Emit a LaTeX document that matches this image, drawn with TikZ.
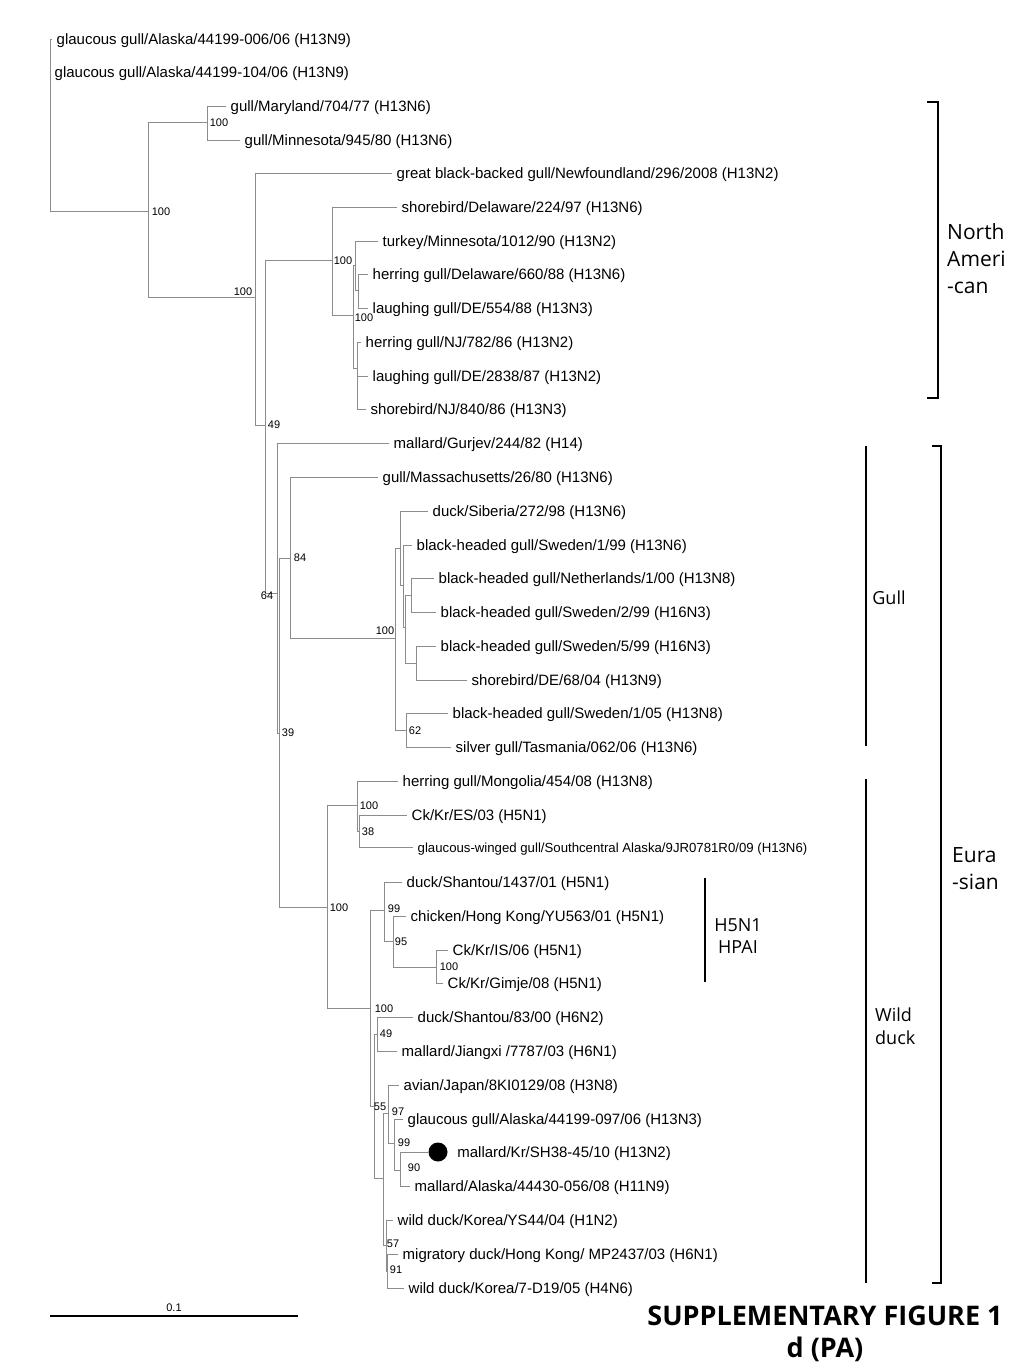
\documentclass[tikz,border=0pt]{standalone}
\usepackage{fontspec}
\usetikzlibrary{positioning}
\newfontfamily\leaffamily{Liberation Sans}
\newfontfamily\cladefamily{Open Sans}
\newcommand{\leaffont}{\leaffamily\fontsize{15}{18}\selectfont}
\newcommand{\smallleaffont}{\leaffamily\fontsize{13.2}{16}\selectfont}
\newcommand{\bootfont}{\leaffamily\fontsize{11}{13}\selectfont}
\newcommand{\cladefont}{\cladefamily\fontsize{21}{27}\selectfont}
\newcommand{\subcladefont}{\cladefamily\fontsize{18}{22.5}\selectfont}
\newcommand{\titlefont}{\cladefamily\bfseries\fontsize{27}{32}\selectfont}
\definecolor{treegray}{RGB}{140,140,140}
\tikzset{>=latex}

\begin{document}
\begin{tikzpicture}[x=1pt, y=-1pt,
  every edge/.style={draw=treegray, line width=0.8pt, to path={(\tikztostart) |- (\tikztotarget) \tikztonodes}},
  leaf/.style={anchor=west, inner xsep=4.5pt, inner ysep=0pt, text height=10.5pt, text depth=0pt, font=\leaffont},
  boot/.style={inner sep=0pt, font=\bootfont},
  clade/.style={inner sep=0pt, align=left, font=\cladefont},
  subclade/.style={inner sep=0pt, align=left, font=\subcladefont},
  bracket/.style={line width=1.4pt},
  dot/.style={circle, fill=black, inner sep=0pt, minimum size=19pt}]
\fill[white] (0,0) rectangle (1024,1365);
\useasboundingbox (0,0) rectangle (1024,1365);

\coordinate (r) at (50,125);
\coordinate (a) at (148,211);
\coordinate (b) at (207,122);
\coordinate (c) at (255,297);
\coordinate (e) at (265,425);
\coordinate (na) at (332,260);
\coordinate (g) at (353,315);
\coordinate (h) at (355,265);
\coordinate (h2) at (358,290);
\coordinate (i) at (357,368);
\coordinate (f) at (277,593);
\coordinate (f2) at (279,733);
\coordinate (j) at (290,558);
\coordinate (m) at (395,638);
\coordinate (m1) at (400,548);
\coordinate (m3) at (403,585);
\coordinate (m4) at (405,627);
\coordinate (m5) at (411,595);
\coordinate (m6) at (416,663);
\coordinate (m2) at (406,730);
\coordinate (k) at (327,907);
\coordinate (n) at (357,805);
\coordinate (n2) at (359,831);
\coordinate (o) at (370,1008);
\coordinate (p) at (384,910);
\coordinate (p2) at (393,941);
\coordinate (p3) at (436,967);
\coordinate (q) at (374,1106);
\coordinate (rr) at (377,1034);
\coordinate (s) at (383,1178);
\coordinate (t) at (388,1113);
\coordinate (t2) at (394,1143);
\coordinate (t3) at (400,1170);
\coordinate (u) at (386,1245);
\coordinate (u2) at (387,1271);

\node[leaf] (l1) at (52,39) {glaucous gull/Alaska/44199-006/06 (H13N9)};
\node[leaf] (l2) at (50,72) {glaucous gull/Alaska/44199-104/06 (H13N9)};
\node[leaf] (l3) at (226,106) {gull/Maryland/704/77 (H13N6)};
\node[leaf] (l4) at (240,140) {gull/Minnesota/945/80 (H13N6)};
\node[leaf] (l5) at (392,173) {great black-backed gull/Newfoundland/296/2008 (H13N2)};
\node[leaf] (l6) at (397,207) {shorebird/Delaware/224/97 (H13N6)};
\node[leaf] (l7) at (378,241) {turkey/Minnesota/1012/90 (H13N2)};
\node[leaf] (l8) at (368,274) {herring gull/Delaware/660/88 (H13N6)};
\node[leaf] (l9) at (368,308) {laughing gull/DE/554/88 (H13N3)};
\node[leaf] (l10) at (361,342) {herring gull/NJ/782/86 (H13N2)};
\node[leaf] (l11) at (368,376) {laughing gull/DE/2838/87 (H13N2)};
\node[leaf] (l12) at (366,409) {shorebird/NJ/840/86 (H13N3)};
\node[leaf] (l13) at (389,443) {mallard/Gurjev/244/82 (H14)};
\node[leaf] (l14) at (378,477) {gull/Massachusetts/26/80 (H13N6)};
\node[leaf] (l15) at (428,511) {duck/Siberia/272/98 (H13N6)};
\node[leaf] (l16) at (412,545) {black-headed gull/Sweden/1/99 (H13N6)};
\node[leaf] (l17) at (434,578) {black-headed gull/Netherlands/1/00 (H13N8)};
\node[leaf] (l18) at (436,612) {black-headed gull/Sweden/2/99 (H16N3)};
\node[leaf] (l19) at (436,646) {black-headed gull/Sweden/5/99 (H16N3)};
\node[leaf] (l20) at (467,680) {shorebird/DE/68/04 (H13N9)};
\node[leaf] (l21) at (448,713) {black-headed gull/Sweden/1/05 (H13N8)};
\node[leaf] (l22) at (451,747) {silver gull/Tasmania/062/06 (H13N6)};
\node[leaf] (l23) at (398,781) {herring gull/Mongolia/454/08 (H13N8)};
\node[leaf] (l24) at (407,815) {Ck/Kr/ES/03 (H5N1)};
\node[leaf, font=\smallleaffont] (l25) at (413,847) {glaucous-winged gull/Southcentral Alaska/9JR0781R0/09 (H13N6)};
\node[leaf] (l26) at (402,882) {duck/Shantou/1437/01 (H5N1)};
\node[leaf] (l27) at (406,916) {chicken/Hong Kong/YU563/01 (H5N1)};
\node[leaf] (l28) at (448,950) {Ck/Kr/IS/06 (H5N1)};
\node[leaf] (l29) at (443,983) {Ck/Kr/Gimje/08 (H5N1)};
\node[leaf] (l30) at (413,1017) {duck/Shantou/83/00 (H6N2)};
\node[leaf] (l31) at (397,1051) {mallard/Jiangxi /7787/03 (H6N1)};
\node[leaf] (l32) at (399,1085) {avian/Japan/8KI0129/08 (H3N8)};
\node[leaf] (l33) at (403,1119) {glaucous gull/Alaska/44199-097/06 (H13N3)};
\node[dot] (sh38) at (438,1152) {};
\node[leaf, right=5pt of sh38] (l34) {mallard/Kr/SH38-45/10 (H13N2)};
\node[leaf] (l35) at (410,1186) {mallard/Alaska/44430-056/08 (H11N9)};
\node[leaf] (l36) at (393,1220) {wild duck/Korea/YS44/04 (H1N2)};
\node[leaf] (l37) at (398,1254) {migratory duck/Hong Kong/ MP2437/03 (H6N1)};
\node[leaf] (l38) at (404,1288) {wild duck/Korea/7-D19/05 (H4N6)};

\path (r) edge (l1) edge (l2) edge (a);
\path (a) edge (b) edge (c);
\path (b) edge (l3) edge (l4);
\path (c) edge (l5) edge (e);
\path (e) edge (na) edge (f);
\path (na) edge (l6) edge (g);
\path (g) edge (h) edge (i);
\path (h) edge (l7) edge (h2);
\path (h2) edge (l8) edge (l9);
\path (i) edge (l10) edge (l11) edge (l12);
\path (f) edge (l13) edge (f2);
\path (f2) edge (j) edge (k);
\path (j) edge (l14) edge (m);
\path (m) edge (m1) edge (m2);
\path (m1) edge (l15) edge (m3);
\path (m3) edge (l16) edge (m4);
\path (m4) edge (m5) edge (m6);
\path (m5) edge (l17) edge (l18);
\path (m6) edge (l19) edge (l20);
\path (m2) edge (l21) edge (l22);
\path (k) edge (n) edge (o);
\path (n) edge (l23) edge (n2);
\path (n2) edge (l24) edge (l25);
\path (o) edge (p) edge (q);
\path (p) edge (l26) edge (p2);
\path (p2) edge (l27) edge (p3);
\path (p3) edge (l28) edge (l29);
\path (q) edge (rr) edge (s);
\path (rr) edge (l30) edge (l31);
\path (s) edge (t) edge (u);
\path (t) edge (l32) edge (t2);
\path (t2) edge (l33) edge (t3);
\path (t3) edge (sh38) edge (l35);
\path (u) edge (l36) edge (u2);
\path (u2) edge (l37) edge (l38);

\node[boot] (bs-a) at (161,212) {100};
\node[boot] (bs-b) at (219,123) {100};
\node[boot] (bs-c) at (243,292) {100};
\node[boot] (bs-na) at (343,261) {100};
\node[boot] (bs-g) at (364,318) {100};
\node[boot] (bs-e) at (274,425) {49};
\node[boot] (bs-f) at (267,596) {64};
\node[boot] (bs-j) at (300,558) {84};
\node[boot] (bs-m) at (385,631) {100};
\node[boot] (bs-m2) at (415,731) {62};
\node[boot] (bs-f2) at (288,733) {39};
\node[boot] (bs-k) at (339,908) {100};
\node[boot] (bs-n) at (369,806) {100};
\node[boot] (bs-n2) at (368,832) {38};
\node[boot] (bs-p) at (394,909) {99};
\node[boot] (bs-p2) at (401,942) {95};
\node[boot] (bs-p3) at (449,967) {100};
\node[boot] (bs-o) at (384,1009) {100};
\node[boot] (bs-rr) at (386,1034) {49};
\node[boot] (bs-q) at (380,1107) {55};
\node[boot] (bs-t) at (398,1112) {97};
\node[boot] (bs-t2) at (404,1143) {99};
\node[boot] (bs-t3) at (414,1168) {90};
\node[boot] (bs-u) at (393,1244) {57};
\node[boot] (bs-u2) at (396,1270) {91};

\coordinate (s0) at (50,1316);
\coordinate (s1) at (298,1316);
\draw[bracket] (s0) -- (s1) node[boot, midway, above=4pt] (scale) {0.1};

\draw[bracket] (927,102) -- (938,102) -- (938,398) -- (927,398);
\draw[bracket] (932,446) -- (941,446) -- (941,1283) -- (932,1283);
\draw[bracket] (866,446) -- (866,746);
\draw[bracket] (866,779) -- (866,1283);
\draw[bracket] (705,878) -- (705,982);

\node[clade, anchor=west] (nam) at (947,259) {North\\Ameri\\-can};
\node[clade, anchor=west] (eur) at (952,869) {Eura\\-sian};
\node[subclade] (gull) at (889,598) {Gull};
\node[subclade, anchor=west] (wild) at (875,1026) {Wild\\duck};
\node[subclade, align=center] (hpai) at (738,936) {H5N1\\HPAI};
\node[align=center, inner sep=0pt, font=\titlefont] (title) at (825,1334) {SUPPLEMENTARY FIGURE 1\\d (PA)};
\end{tikzpicture}
\end{document}
